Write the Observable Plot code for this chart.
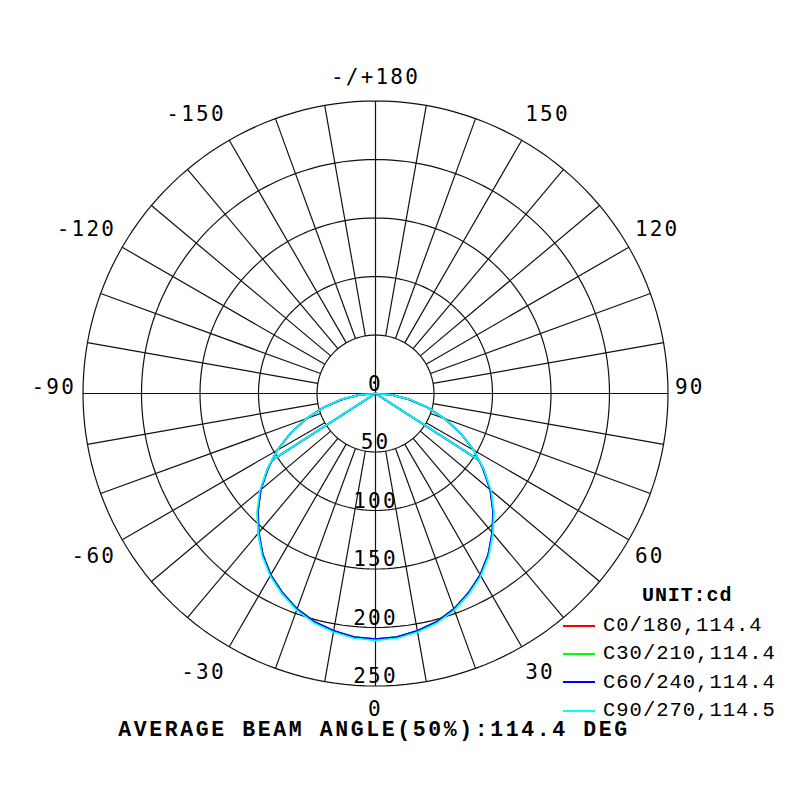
<!DOCTYPE html>
<html><head><meta charset="utf-8">
<script src="https://cdn.jsdelivr.net/npm/d3@7"></script>
<script src="https://cdn.jsdelivr.net/npm/@observablehq/plot@0.6"></script>
<style>
html,body{margin:0;padding:0;background:#fff;}
#wrap{position:relative;width:800px;height:800px;overflow:hidden;}
#wrap svg{position:absolute;left:0;top:0;}
.unit{position:absolute;left:642px;top:584px;line-height:24px;font-family:"Liberation Mono",monospace;font-weight:bold;font-size:20px;letter-spacing:0.9px;color:#000;}
.row{position:absolute;left:563px;height:28px;line-height:28px;font-family:"Liberation Mono",monospace;font-size:20.5px;letter-spacing:1px;color:#000;white-space:nowrap;}
.sw{display:inline-block;width:32px;height:2px;vertical-align:middle;margin-right:8px;}
.title{position:absolute;left:0;width:748px;top:718px;line-height:24px;text-align:center;font-family:"Liberation Mono",monospace;font-weight:bold;font-size:21.5px;letter-spacing:2.6px;color:#000;white-space:nowrap;}
</style></head><body><div id="wrap"></div>
<script>
// ---- data ----
const planes = ["C0/180", "C30/210", "C60/240", "C90/270"];
const planeColors = ["#ff0000", "#00ff00", "#0000ff", "#00ffff"];
const beamAngles = [114.4, 114.4, 114.4, 114.5];
const gammas = [0, 5, 10, 15, 20, 25, 30, 35, 40, 45, 50, 55, 60, 65, 70, 75, 80, 85, 90];
const c0 =  [210, 209, 206, 202, 196, 188, 179, 168, 156, 142, 128, 113, 97, 80, 63, 46, 30, 14, 0];
const c30 = [210, 209, 206, 202, 196, 188, 179, 168, 156, 143, 128, 113, 97, 80, 63, 46, 29, 14, 0];
const c60 = [210, 209, 206, 202, 196, 188, 179, 168, 155, 142, 128, 112, 97, 80, 63, 46, 29, 14, 0];
const c90 = [211, 210, 207, 203, 197, 189, 180, 169, 156, 143, 129, 113, 97, 80, 63, 46, 30, 14, 0];
const ringValues = [0, 50, 100, 150, 200, 250];
const ringLabels = ["0", "50", "100", "150", "200", "250"];
const angleTicks = [0, 30, 60, 90, 120, 150, 180, -150, -120, -90, -60, -30];
const angleLabels = ["0", "30", "60", "90", "120", "150", "-/+180", "-150", "-120", "-90", "-60", "-30"];
const unitLabel = "UNIT:cd";
const averageBeam = 114.4;

// ---- geometry helpers ----
const CX = 375, CY = 393, K = 1.17; // px center & px per cd
const rad = a => a * Math.PI / 180;
const px = (a, r) => r * Math.sin(rad(a));
const py = (a, r) => -r * Math.cos(rad(a));
const outer = ringValues[ringValues.length - 1];
const inner = ringValues[1];

const ringPts = [];
for (const v of ringValues.slice(1)) {
  for (let a = 0; a <= 360; a += 2) ringPts.push({ring: v, x: px(a, v), y: py(a, v)});
}
const spokes = [];
for (let a = -180; a < 180; a += 10) {
  const r0 = (a % 90 === 0) ? 0 : inner;
  spokes.push({x1: px(a, r0), y1: py(a, r0), x2: px(a, outer), y2: py(a, outer)});
}
const profiles = [c0, c30, c60, c90];
const curvePts = [];
profiles.forEach((p, i) => {
  for (let j = gammas.length - 1; j >= 0; j--) curvePts.push({plane: planes[i], x: px(-gammas[j], p[j]), y: py(-gammas[j], p[j])});
  for (let j = 1; j < gammas.length; j++) curvePts.push({plane: planes[i], x: px(gammas[j], p[j]), y: py(gammas[j], p[j])});
});
const beamLines = [];
profiles.forEach((p, i) => {
  const half = beamAngles[i] / 2, v = d3.max(p) / 2;
  for (const s of [-1, 1]) beamLines.push({plane: planes[i], x1: 0, y1: 0, x2: px(s * half, v), y2: py(s * half, v)});
});
const ringLabelData = ringValues.map((v, i) => ({x: 0, y: -v, text: ringLabels[i]}));
const LRX = 256, LRY = 270;
const angleData = angleTicks.map((a, i) => ({a, text: angleLabels[i], x: px(a, LRX), y: -LRY * Math.cos(rad(a))}));
const fontMono = "DejaVu Sans Mono";
const lbl = {x: "x", y: "y", text: "text", lineAnchor: "middle", fontSize: 21, fontFamily: fontMono, fill: "#000"};

const plot = Plot.plot({
  width: 800, height: 800, margin: 0,
  style: {letterSpacing: "2.2px", background: "#fff"},
  x: {domain: [-CX / K, (800 - CX) / K], range: [0, 800], axis: null},
  y: {domain: [-(800 - CY) / K, CY / K], range: [800, 0], axis: null},
  color: {domain: planes, range: planeColors},
  marks: [
    Plot.line(ringPts, {x: "x", y: "y", z: "ring", stroke: "#111", strokeWidth: 1.2}),
    Plot.link(spokes, {x1: "x1", y1: "y1", x2: "x2", y2: "y2", stroke: "#111", strokeWidth: 1.2}),
    Plot.link(beamLines, {x1: "x1", y1: "y1", x2: "x2", y2: "y2", stroke: "plane", strokeWidth: 1.7}),
    Plot.line(curvePts, {x: "x", y: "y", z: "plane", stroke: "plane", strokeWidth: 1.7}),
    Plot.text(ringLabelData, {x: "x", y: "y", text: "text", textAnchor: "middle", lineAnchor: "bottom", fontSize: 21, fontFamily: fontMono, fill: "#000", dy: -3}),
    Plot.text(angleData.filter(d => d.a === 0 || Math.abs(d.a) === 180), {...lbl, textAnchor: "middle"}),
    Plot.text(angleData.filter(d => Math.abs(d.a) >= 90 && Math.abs(d.a) < 180), {...lbl, textAnchor: "start", filter: d => d.a > 0, dy: -6}),
    Plot.text(angleData.filter(d => Math.abs(d.a) >= 90 && Math.abs(d.a) < 180), {...lbl, textAnchor: "end", filter: d => d.a < 0, dy: -6}),
    Plot.text(angleData.filter(d => Math.abs(d.a) > 0 && Math.abs(d.a) < 90), {...lbl, textAnchor: "start", filter: d => d.a > 0, dy: 5}),
    Plot.text(angleData.filter(d => Math.abs(d.a) > 0 && Math.abs(d.a) < 90), {...lbl, textAnchor: "end", filter: d => d.a < 0, dy: 5})
  ]
});
const wrap = document.getElementById("wrap");
wrap.appendChild(plot);

const u = document.createElement("div");
u.className = "unit"; u.textContent = unitLabel; wrap.appendChild(u);
planes.forEach((p, i) => {
  const r = document.createElement("div");
  r.className = "row";
  r.style.top = (612 + i * 28.4) + "px";
  const sw = document.createElement("span");
  sw.className = "sw"; sw.style.background = planeColors[i];
  r.appendChild(sw);
  r.appendChild(document.createTextNode(p + "," + beamAngles[i].toFixed(1)));
  wrap.appendChild(r);
});
const t = document.createElement("div");
t.className = "title";
t.textContent = "AVERAGE BEAM ANGLE(50%):" + averageBeam.toFixed(1) + " DEG";
wrap.appendChild(t);
</script>
</body></html>
